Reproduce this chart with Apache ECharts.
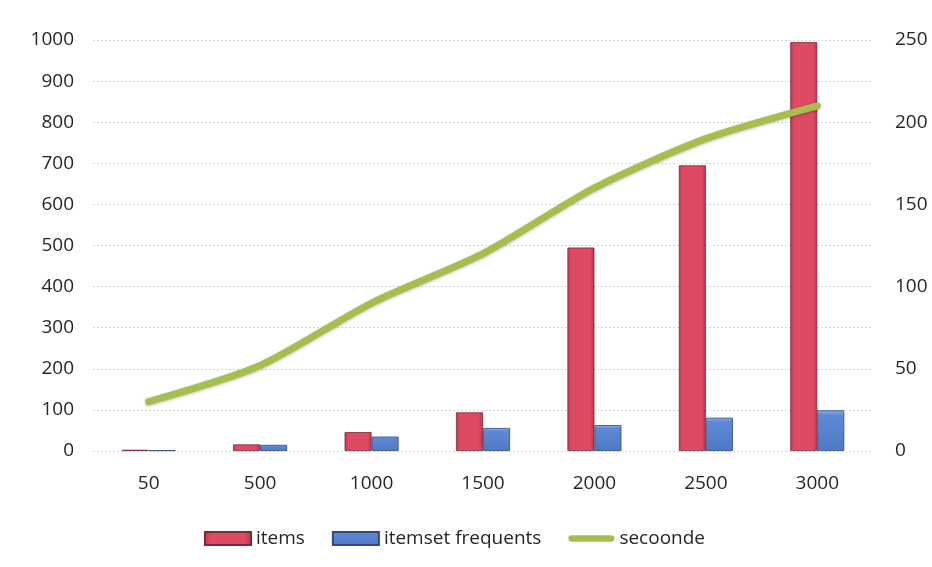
<!DOCTYPE html>
<html>
<head>
<meta charset="utf-8">
<script src="https://cdn.jsdelivr.net/npm/echarts@6/dist/echarts.min.js"></script>
<style>
  html, body { margin: 0; padding: 0; background: #ffffff; }
  #chart { width: 932px; height: 567px; }
</style>
</head>
<body>
<div id="chart"></div>
<script>
// Sizes of the transaction sets
const categories = ['50', '500', '1000', '1500', '2000', '2500', '3000'];
// Number of items (left axis)
const items = [3, 16, 46, 94, 495, 695, 995];
// Number of frequent itemsets (left axis)
const itemsetFrequents = [2, 15, 35, 56, 63, 81, 99];
// Run time in seconds (right axis)
const secoonde = [30, 52, 90, 120, 160, 190, 210];

const textColor = '#262626';
const fontFamily = '"Open Sans", "DejaVu Sans", sans-serif';

const chart = echarts.init(document.getElementById('chart'), null, { renderer: 'canvas' });

chart.setOption({
  backgroundColor: '#ffffff',
  animation: false,
  textStyle: { fontFamily: fontFamily, color: textColor },
  grid: { left: 93, right: 59, top: 40, bottom: 116, containLabel: false },
  legend: {
    left: 199,
    top: 524,
    itemWidth: 46,
    itemHeight: 13,
    itemGap: 27,
    textStyle: { fontSize: 19, color: textColor, fontFamily: fontFamily },
    data: [
      { name: 'items', icon: 'rect' },
      { name: 'itemset frequents', icon: 'rect' },
      { name: 'secoonde', icon: 'path://M3,0 H45 A3,3 0 0 1 45,7 H3 A3,3 0 0 1 3,0 Z' }
    ]
  },
  xAxis: {
    type: 'category',
    data: categories,
    axisLine: { show: false },
    axisTick: { show: false },
    axisLabel: { fontSize: 19, color: textColor, margin: 23, fontFamily: fontFamily }
  },
  yAxis: [
    {
      type: 'value',
      min: 0,
      max: 1000,
      interval: 100,
      axisLine: { show: false },
      axisTick: { show: false },
      axisLabel: {
        fontSize: 19, color: textColor, margin: 19, fontFamily: fontFamily,
        formatter: function (v) { return String(v); }
      },
      splitLine: { lineStyle: { color: '#d4d4d4', type: [2, 2], width: 1 } }
    },
    {
      type: 'value',
      min: 0,
      max: 250,
      interval: 50,
      position: 'right',
      axisLine: { show: false },
      axisTick: { show: false },
      axisLabel: {
        fontSize: 19, color: textColor, margin: 22, fontFamily: fontFamily,
        padding: [5, 0, 0, 0],
        formatter: function (v) { return String(v); }
      },
      splitLine: { show: false }
    }
  ],
  series: [
    {
      name: 'items',
      type: 'bar',
      data: items,
      barWidth: 27,
      barGap: '0%',
      itemStyle: {
        color: new echarts.graphic.LinearGradient(0, 0, 1, 0, [
          { offset: 0, color: '#c9374f' },
          { offset: 0.15, color: '#de4a62' },
          { offset: 0.85, color: '#de4a62' },
          { offset: 1, color: '#b8324a' }
        ]),
        borderColor: '#7a2a38',
        borderWidth: 0.8
      }
    },
    {
      name: 'itemset frequents',
      type: 'bar',
      data: itemsetFrequents,
      barWidth: 27,
      barGap: '0%',
      itemStyle: {
        color: new echarts.graphic.LinearGradient(0, 0, 0, 1, [
          { offset: 0, color: '#8fb0ea' },
          { offset: 0.12, color: '#5f88d6' },
          { offset: 1, color: '#4f78c4' }
        ]),
        borderColor: '#2e4a80',
        borderWidth: 0.8
      }
    },
    {
      name: 'secoonde',
      type: 'line',
      yAxisIndex: 1,
      data: secoonde,
      smooth: 0.25,
      symbol: 'none',
      lineStyle: {
        color: '#a6bf4c',
        width: 7,
        cap: 'round',
        shadowColor: 'rgba(0,0,0,0.25)',
        shadowBlur: 3,
        shadowOffsetY: 1
      },
      itemStyle: { color: '#a6bf4c' },
      z: 5
    }
  ]
});
</script>
</body>
</html>
